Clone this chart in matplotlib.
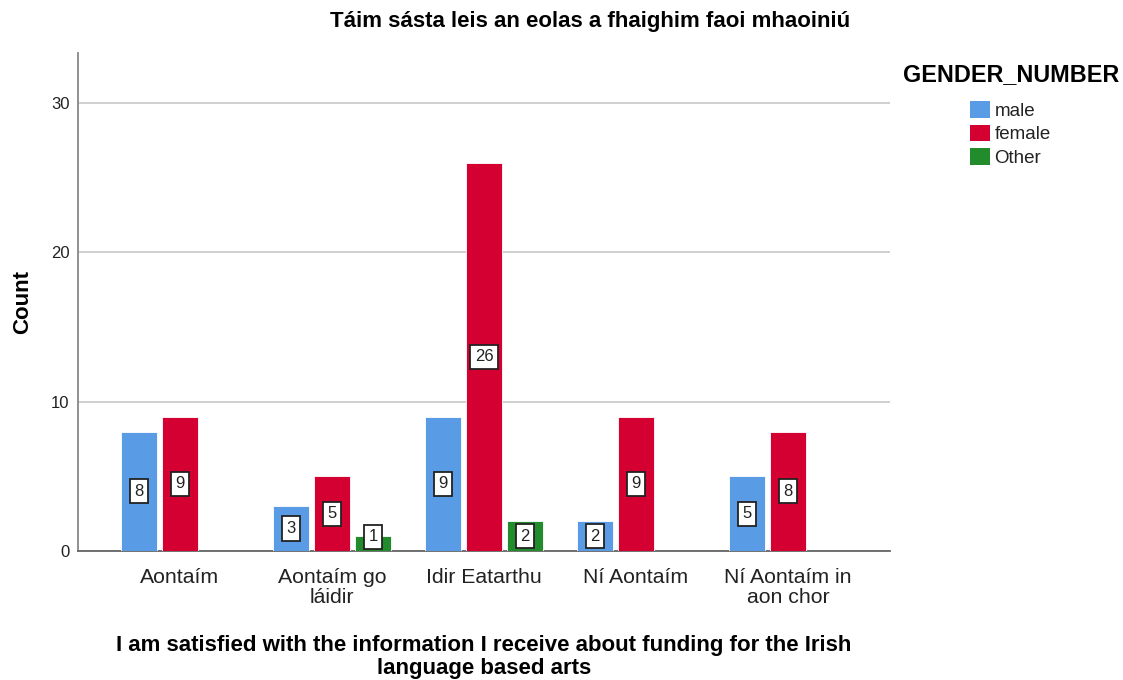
import numpy as np
import matplotlib
matplotlib.use("Agg")
import matplotlib.pyplot as plt
from matplotlib.patches import Patch

plt.rcParams['font.family'] = ['Liberation Sans', 'DejaVu Sans']

# === Данные ===
categories = ["Aontaím", "Aontaím go\nláidir", "Idir Eatarthu", "Ní Aontaím", "Ní Aontaím in\naon chor"]
genders = ["male", "female", "Other"]
male = [8, 3, 9, 2, 5]
female = [9, 5, 26, 9, 8]
other = [0, 1, 2, 0, 0]
colors = ["#5A9BE6", "#D50032", "#228B2B"]

fig = plt.figure(figsize=(11.23, 6.8), dpi=100)
ax = fig.add_axes([78 / 1123, 1 - 551 / 680, (890 - 78) / 1123, (551 - 53) / 680])

x = np.arange(len(categories))
width = 0.237
step = 0.27
for i, (vals, col) in enumerate(zip([male, female, other], colors)):
    pos = x + (i - 1) * step
    for p, v in zip(pos, vals):
        if v == 0:
            continue
        ax.bar(p, v, width=width, color=col, edgecolor="white", linewidth=0.6, zorder=3)
        ax.text(p, max(v / 2, 0.95), str(v), ha="center", va="center", fontsize=12, zorder=4,
                color="#222222",
                bbox=dict(boxstyle="square,pad=0.28", fc="white", ec="#222222", lw=1.3))

ax.set_xlim(-0.671, 4.671)
ax.set_ylim(0, 33.35)
ax.set_yticks([0, 10, 20, 30])
ax.yaxis.grid(True, color="#cccccc", linewidth=1.3, zorder=0)
ax.tick_params(axis="y", length=0, labelsize=12, pad=6, colors="#222222")
ax.tick_params(axis="x", length=0, labelsize=15.3, pad=12, colors="#222222")
ax.set_xticks(x)
ax.set_xticklabels(categories, linespacing=1.12)
for s in ["top", "right"]:
    ax.spines[s].set_visible(False)
ax.spines["left"].set_color("#888888")
ax.spines["bottom"].set_color("#666666")
ax.spines["left"].set_linewidth(1.3)
ax.spines["bottom"].set_linewidth(1.3)

ax.set_ylabel("Count", fontsize=16, fontweight="bold", labelpad=13)
ax.set_xlabel("I am satisfied with the information I receive about funding for the Irish\nlanguage based arts",
              fontsize=16, fontweight="bold", labelpad=20, linespacing=1.08)
fig.text(590 / 1123, 1 - 22 / 680, "Táim sásta leis an eolas a fhaighim faoi mhaoiniú",
         ha="center", va="center", fontsize=16, fontweight="bold")

fig.text(903 / 1123, 1 - 75 / 680, "GENDER_NUMBER", ha="left", va="center",
         fontsize=16.8, fontweight="bold")
handles = [Patch(facecolor=c, edgecolor="none") for c in colors]
leg = fig.legend(handles, genders, loc="upper left", bbox_to_anchor=(970 / 1123, 1 - 101 / 680),
                 frameon=False, fontsize=13.5, borderaxespad=0, borderpad=0,
                 handlelength=1.05, handleheight=1.0, handletextpad=0.25, labelspacing=0.25)
for t in leg.get_texts():
    t.set_color("#222222")

plt.savefig("out.png", dpi=100)
